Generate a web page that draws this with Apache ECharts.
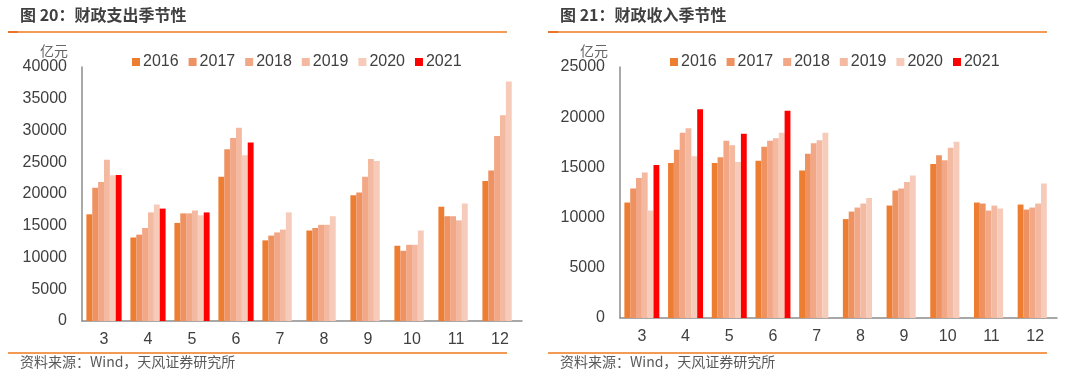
<!DOCTYPE html>
<html><head><meta charset="utf-8">
<script src="https://cdn.jsdelivr.net/npm/echarts@6/dist/echarts.min.js"></script>
<style>html,body{margin:0;padding:0;background:#fff}#c{width:1080px;height:377px}</style>
</head><body><div id="c"></div>
<script>
const months = ['3','4','5','6','7','8','9','10','11','12'];
const years = ['2016','2017','2018','2019','2020','2021'];
const colors = ['#ED7D31','#EF9262','#F2A786','#F4B9A1','#F7CBBA','#FF0000'];
// 财政支出 (亿元)
const exp2016 = [16800,13150,15450,22700,12700,14250,19800,11850,18000,22050];
const exp2017 = [21000,13600,16950,27050,13450,14650,20250,11050,16500,23700];
const exp2018 = [21900,14650,16950,28800,13950,15150,22700,12000,16500,29150];
const exp2019 = [25400,17100,17400,30450,14400,15150,25500,12000,15850,32400];
const exp2020 = [22950,18350,16650,26100,17100,16500,25200,14250,18500,37700];
const exp2021 = [23000,17700,17100,28100,null,null,null,null,null,null];
// 财政收入 (亿元)
const rev2016 = [11500,15450,15450,15650,14700,9850,11200,15350,11500,11300];
const rev2017 = [12900,16750,16000,17050,16350,10600,12700,16200,11400,10800];
const rev2018 = [13950,18450,17650,17650,17400,11000,12900,15700,10700,11000];
const rev2019 = [14500,18900,17200,17900,17700,11400,13550,16950,11200,11400];
const rev2020 = [10700,16100,15550,18450,18450,11950,14200,17550,10900,13400];
const rev2021 = [15250,20800,18350,20650,null,null,null,null,null,null];
const expTicks = {min:0,max:40000,interval:5000};
const revTicks = {min:0,max:25000,interval:5000};

const expData = [exp2016,exp2017,exp2018,exp2019,exp2020,exp2021];
const revData = [rev2016,rev2017,rev2018,rev2019,rev2020,rev2021];

const numFont = '"Liberation Sans", Arial, sans-serif';
const cjkFont = '"Noto Sans CJK SC", sans-serif';

const chart = echarts.init(document.getElementById('c'), null, {renderer:'canvas'});
const series = [];
years.forEach((y,i)=>{
  series.push({name:y,type:'bar',xAxisIndex:0,yAxisIndex:0,data:expData[i],
    itemStyle:{color:colors[i]},barGap:'0%',barCategoryGap:'20%',animation:false});
});
years.forEach((y,i)=>{
  series.push({name:y,type:'bar',xAxisIndex:1,yAxisIndex:1,data:revData[i],
    itemStyle:{color:colors[i]},barGap:'0%',barCategoryGap:'20%',animation:false});
});
const xAx = (gi)=>({type:'category',gridIndex:gi,data:months,
  axisLine:{lineStyle:{color:'#8C8C8C',width:1.5}},axisTick:{show:false},
  axisLabel:{color:'#404040',fontSize:16,fontFamily:numFont,margin:11}});
const yAx = (gi,t)=>({type:'value',gridIndex:gi,min:t.min,max:t.max,interval:t.interval,
  splitLine:{show:false},axisLine:{show:true,lineStyle:{color:'#8C8C8C',width:1.5}},axisTick:{show:false},
  axisLabel:{color:'#404040',fontSize:16,fontFamily:numFont,margin:15,formatter:(v)=>String(v)}});
const legend = (left)=>({left:left,top:49,itemWidth:8,itemHeight:8,itemGap:10,icon:'rect',
  data:years,textStyle:{color:'#404040',fontSize:16,fontFamily:numFont,padding:[0,0,0,-2]}});
const panelGraphics = (x0, title) => [
  {type:'text',left:x0+12,top:7,style:{text:title,font:'bold 16px '+cjkFont,fill:'#404040'}},
  {type:'line',shape:{x1:x0,y1:32,x2:x0+499,y2:32},style:{stroke:'#F39A55',lineWidth:2}},
  {type:'line',shape:{x1:x0,y1:32,x2:x0+10,y2:32},style:{stroke:'#E8742A',lineWidth:2}},
  {type:'line',shape:{x1:x0,y1:353,x2:x0+499,y2:353},style:{stroke:'#F39A55',lineWidth:2}},
  {type:'text',left:x0+12,top:355,style:{text:'资料来源：Wind，天风证券研究所',font:'14px '+cjkFont,fill:'#595959'}},
  {type:'text',left:x0+32,top:44,style:{text:'亿元',font:'14px '+cjkFont,fill:'#666666'}}
];
chart.setOption({
  animation:false,
  grid:[{left:82,top:67,width:440,height:254},{left:620,top:67,width:437,height:251}],
  xAxis:[xAx(0),xAx(1)],
  yAxis:[yAx(0,expTicks),yAx(1,revTicks)],
  legend:[legend(127),legend(665)],
  series:series,
  graphic:[...panelGraphics(8,'图 20：财政支出季节性'),...panelGraphics(548,'图 21：财政收入季节性')]
});
</script></body></html>
